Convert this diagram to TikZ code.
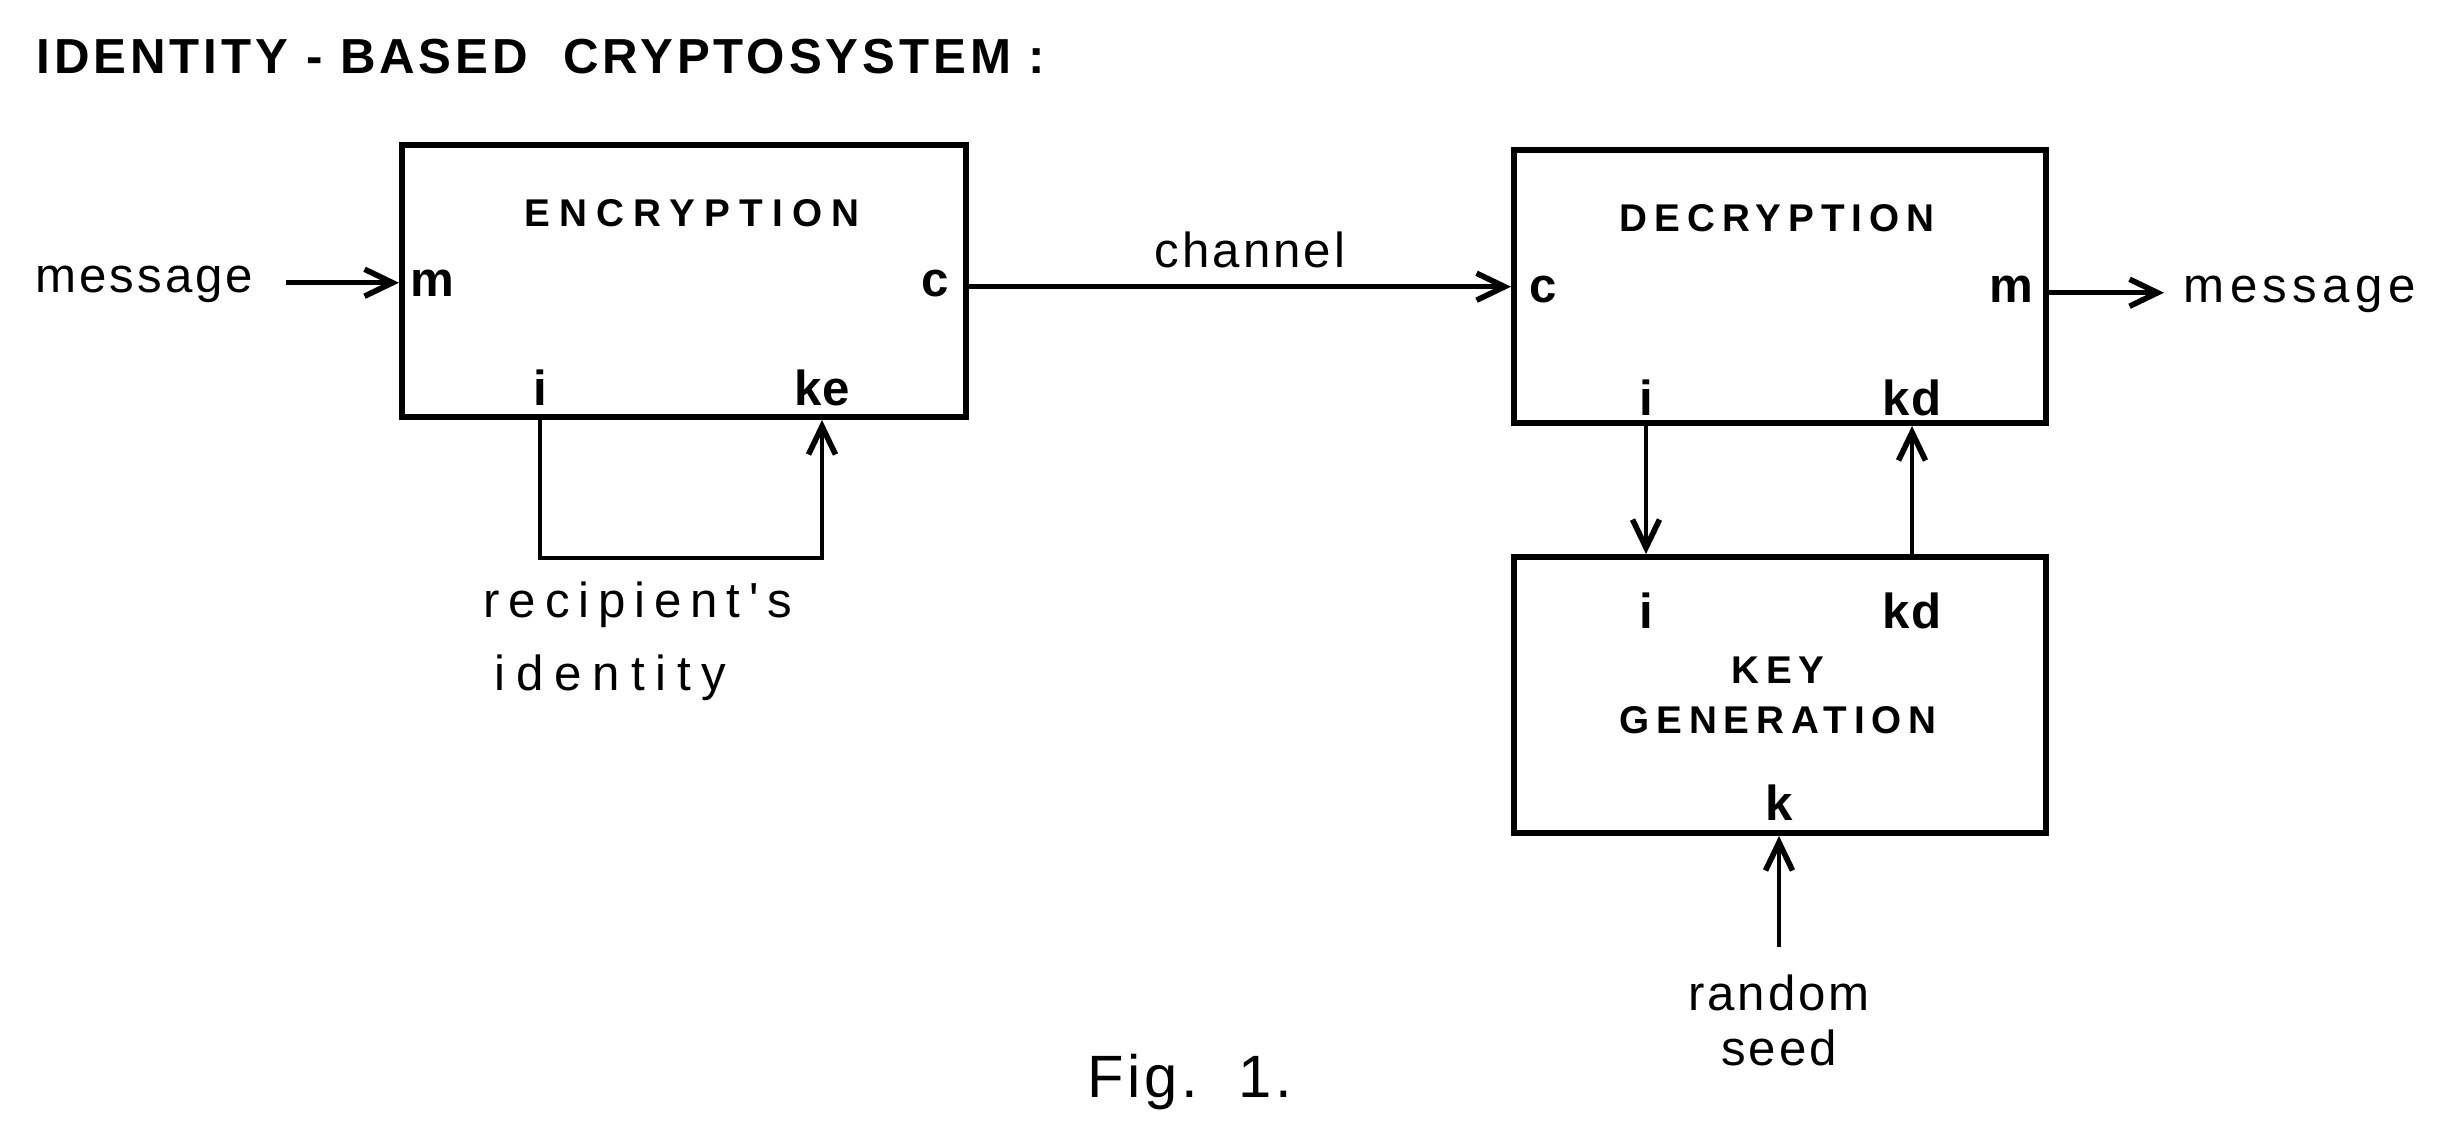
\documentclass[tikz,border=0pt]{standalone}
\usepackage{fontspec}
\setmainfont{Liberation Sans}
\usepackage{tikz}
\usetikzlibrary{arrows.meta, calc}
\newfontfamily\lowfont[LetterSpace=6]{Liberation Sans}
\newfontfamily\portfont[LetterSpace=2]{Liberation Sans Bold}
\newfontfamily\capfont[LetterSpace=18]{Liberation Sans Bold}

\begin{document}
\begin{tikzpicture}[
  block/.style={draw, line width=1.7pt, minimum width=5.32cm, inner sep=0pt},
  port/.style={font=\portfont\fontsize{14}{17}\selectfont, inner sep=0pt, anchor=base},
  lbl/.style={font=\lowfont\fontsize{14}{17}\selectfont, inner sep=0pt, anchor=base, align=center},
  head/.style={font=\capfont\fontsize{11}{14.2}\selectfont, inner sep=0pt, anchor=base, align=center},
  arr/.style={line width=1.4pt, -{Straight Barb[length=2.8mm, width=2.7mm, line width=1.6pt]}},
]
  \useasboundingbox (0,0) rectangle (24.4,-11.36);

  \node[font=\capfont\fontsize{14}{16}\selectfont\addfontfeature{LetterSpace=8}, inner sep=0pt, anchor=base west] (title)
    at (0.36,-0.73) {IDENTITY - BASED\ \ CRYPTOSYSTEM :};

  % the three blocks
  \node[block, minimum width=5.64cm, minimum height=2.72cm] (enc) at (6.84,-2.81) {};
  \node[block, minimum height=2.73cm] (dec) at (17.80,-2.865) {};
  \node[block, minimum height=2.76cm] (kgen) at (17.80,-6.95) {};

  \node[head, font=\capfont\fontsize{11}{14.2}\selectfont\addfontfeature{LetterSpace=24}] (enclbl) at (6.92,-2.26) {ENCRYPTION};
  \node[head] (declbl) at (17.77,-2.31) {DECRYPTION};
  \node[head] (kglbl) at (17.78,-7.33) {KEY\\GENERATION};

  \node[port, anchor=base west] (encm) at (4.10,-2.96) {m};
  \node[port, anchor=base east] (encc) at (9.50,-2.96) {c};
  \node[port] (enci) at (5.40,-4.05) {i};
  \node[port] (encke) at (8.22,-4.05) {ke};

  \node[port, anchor=base west] (decc) at (15.29,-3.02) {c};
  \node[port, anchor=base east] (decm) at (20.34,-3.02) {m};
  \node[port] (deci) at (16.46,-4.15) {i};
  \node[port] (deckd) at (19.12,-4.15) {kd};

  \node[port] (kgi) at (16.46,-6.28) {i};
  \node[port] (kgkd) at (19.12,-6.28) {kd};
  \node[port] (kgk) at (17.79,-8.20) {k};

  \node[lbl, anchor=base west] (msgin) at (0.35,-2.92) {message};
  \node[lbl, anchor=base west, font=\lowfont\fontsize{14}{17}\selectfont\addfontfeature{LetterSpace=11}] (msgout)
    at (21.83,-3.02) {message};
  \node[lbl] (chan) at (12.50,-2.67) {channel};
  \node[lbl, align=left, font=\lowfont\fontsize{14}{20.5}\selectfont] (recip) at (6.38,-6.90)
    {\addfontfeature{LetterSpace=18}recipient's\\\hspace*{0.11cm}\addfontfeature{LetterSpace=22}identity};
  \node[lbl, font=\lowfont\fontsize{14}{15.5}\selectfont] (seed) at (17.79,-10.65) {random\\seed};
  \node[lbl, font=\lowfont\fontsize{17}{20}\selectfont] (fig) at (11.90,-10.97) {Fig.\ \ 1.};

  % connectors
  \draw[arr] ([xshift=3.2mm]msgin.mid east) -- (enc.west |- msgin.mid);
  \draw[arr] (enc.east |- encc.mid) -- (dec.west |- encc.mid);
  \draw[arr] (dec.east |- decm.mid) -- ([xshift=-1.9mm]msgout.mid west);
  \draw[arr] (enci |- enc.south) -- ++(0,-1.38) -| (encke |- enc.south);
  \draw[arr] (deci |- dec.south) -- (deci |- kgen.north);
  \draw[arr] (deckd |- kgen.north) -- (deckd |- dec.south);
  \draw[arr] ([yshift=2.7mm]seed.north) -- (kgk |- kgen.south);
\end{tikzpicture}
\end{document}
